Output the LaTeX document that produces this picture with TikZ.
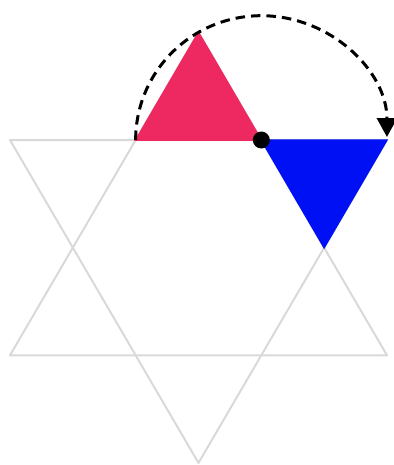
\documentclass[tikz,border=0pt]{standalone}
\usetikzlibrary{arrows.meta, calc}

\definecolor{pieceRed}{RGB}{238,40,96}
\definecolor{pieceBlue}{RGB}{0,16,245}

\begin{document}
\begin{tikzpicture}[x=25.13mm, y=24.86mm,
    star line/.style={draw=gray!30, line width=0.4mm, line join=round},
    piece/.style={draw=#1, fill=#1, line width=0.3mm},
    turn/.style={-{Triangle[length=3.8mm, width=4mm]}, dash pattern=on 1.9mm off 1.2mm, line width=0.6mm, shorten >=0.6mm},
    pivot/.style={circle, fill=black, inner sep=0pt, minimum size=3.4mm}
]
\useasboundingbox (-0.0796,-2.6146) rectangle (3.0557,1.1263);

% ------------------------------------------------------------------------------
% 1. ESQUINAS DE LA ESTRELLA
% ------------------------------------------------------------------------------
\coordinate (downL) at (0,0);
\coordinate (downR) at (3,0);
\coordinate (downB) at (1.5,-2.598);
\coordinate (upL) at (0,-1.732);
\coordinate (upR) at (3,-1.732);
\coordinate (upT) at (1.5,0.866);
\coordinate (edgeL) at (1,0);
\coordinate (edgeR) at (2,0);
\coordinate (blueB) at (2.5,-0.866);

% ------------------------------------------------------------------------------
% 2. ESTRELLA (dos triangulos)
% ------------------------------------------------------------------------------
\draw[star line] (downL) -- (downR) -- (downB) -- cycle;
\draw[star line] (upL) -- (upR) -- (upT) -- cycle;

% ------------------------------------------------------------------------------
% 3. PIEZAS
% ------------------------------------------------------------------------------
\filldraw[piece=pieceRed] (edgeL) -- (edgeR) -- (upT) -- cycle;
\filldraw[piece=pieceBlue] (edgeR) -- (downR) -- (blueB) -- cycle;

% giro de media vuelta
\draw[turn] (edgeL) arc[start angle=180, end angle=0, radius=1];

\node[pivot] (centro) at (edgeR) {};

\end{tikzpicture}
\end{document}
